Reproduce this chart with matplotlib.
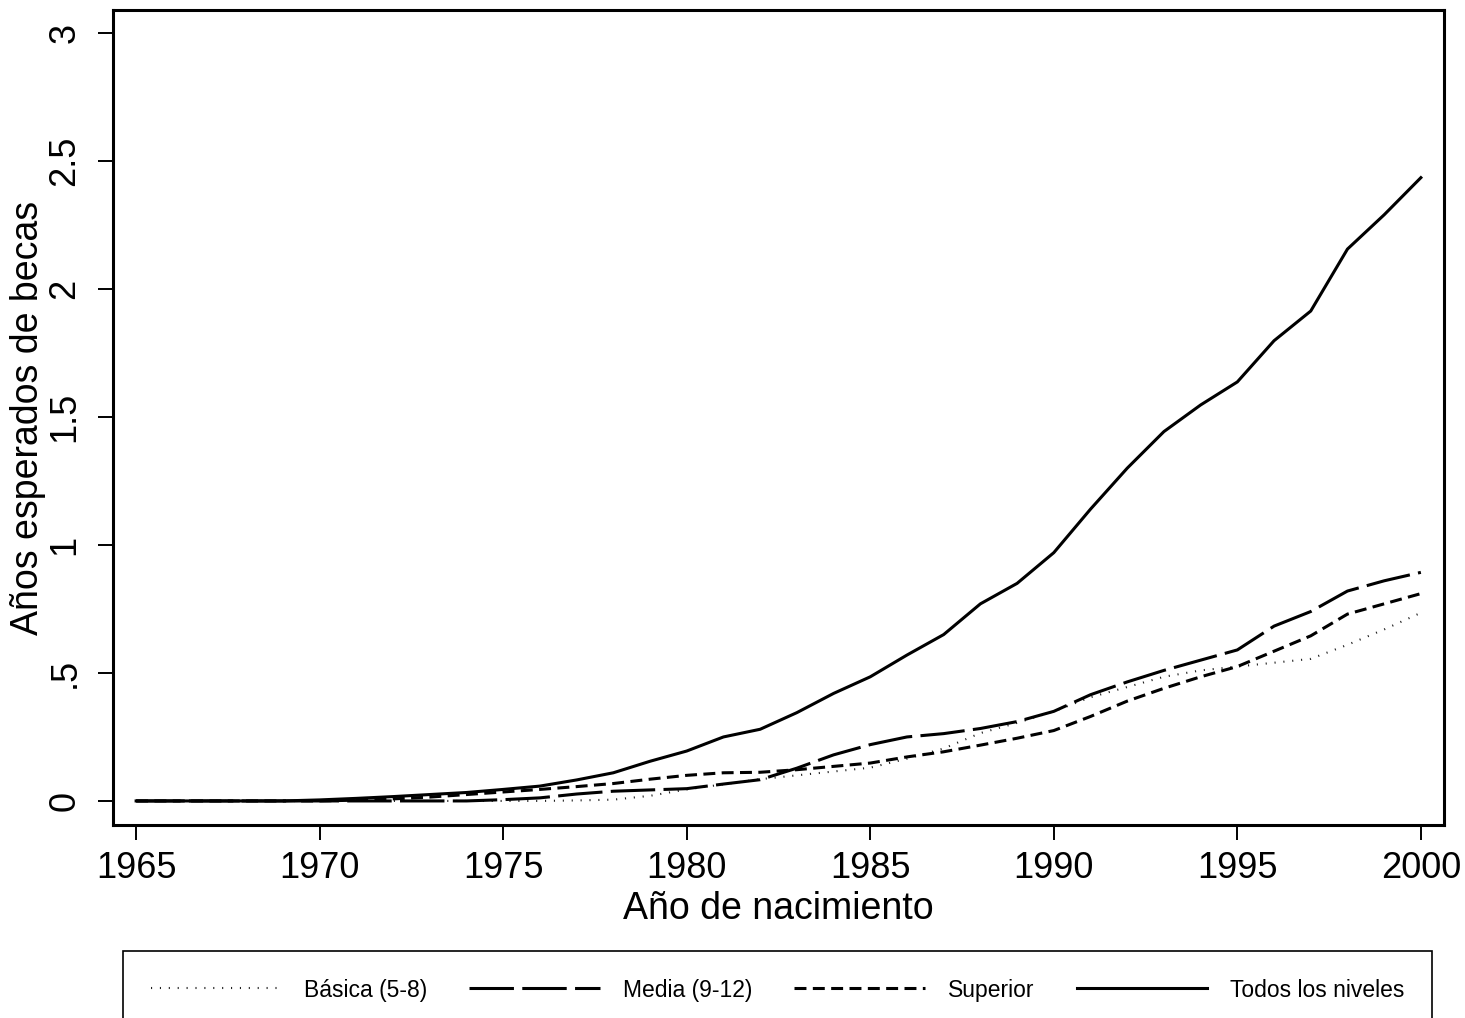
import matplotlib
matplotlib.use('Agg')
import matplotlib.pyplot as plt

plt.rcParams['font.family'] = ['Liberation Sans', 'DejaVu Sans']
plt.rcParams['lines.scale_dashes'] = False

# Data
years = list(range(1965, 2001))
basica = [0, 0, 0, 0, 0, 0, 0, 0, 0, 0,
          0, 0, 0.002, 0.005, 0.02, 0.045, 0.065, 0.085, 0.1, 0.115,
          0.13, 0.165, 0.205, 0.265, 0.305, 0.35, 0.405, 0.445, 0.485, 0.51,
          0.525, 0.54, 0.555, 0.61, 0.67, 0.735]
media = [0, 0, 0, 0, 0, 0, 0, 0, 0, 0,
         0.005, 0.012, 0.027, 0.038, 0.043, 0.048, 0.066, 0.083, 0.128, 0.18,
         0.22, 0.25, 0.263, 0.283, 0.31, 0.35, 0.415, 0.465, 0.51, 0.55,
         0.59, 0.683, 0.74, 0.82, 0.86, 0.893]
superior = [0, 0, 0, 0, 0, 0, 0.003, 0.008, 0.015, 0.025,
            0.035, 0.045, 0.056, 0.068, 0.085, 0.1, 0.11, 0.112, 0.122, 0.135,
            0.148, 0.172, 0.192, 0.218, 0.245, 0.275, 0.33, 0.39, 0.44, 0.485,
            0.525, 0.585, 0.645, 0.73, 0.77, 0.81]
todos = [0, 0, 0, 0, 0, 0.004, 0.01, 0.017, 0.025, 0.033,
         0.045, 0.058, 0.082, 0.11, 0.155, 0.195, 0.25, 0.28, 0.345, 0.42,
         0.485, 0.57, 0.65, 0.77, 0.85, 0.97, 1.14, 1.3, 1.443, 1.547,
         1.637, 1.798, 1.914, 2.156, 2.29, 2.435]

xticks = [1965, 1970, 1975, 1980, 1985, 1990, 1995, 2000]
yticks = [0, 0.5, 1, 1.5, 2, 2.5, 3]
ytick_labels = ['0', '.5', '1', '1.5', '2', '2.5', '3']

W, H = 1465, 1018
fig = plt.figure(figsize=(W / 100, H / 100), dpi=100)
ax = fig.add_axes([113 / W, 1 - 825 / H, (1444 - 113) / W, (825 - 10) / H])

l1, = ax.plot(years, basica, color='#222222', lw=1.5, linestyle=(0, (0.8, 5.6)),
              label='Básica (5-8)')
l2, = ax.plot(years, media, color='black', lw=2.2, linestyle=(0, (32, 6)),
              label='Media (9-12)')
l3, = ax.plot(years, superior, color='black', lw=2.2, linestyle=(0, (8.6, 4.6)),
              label='Superior')
l4, = ax.plot(years, todos, color='black', lw=2.2, label='Todos los niveles')

ax.set_xlim(1964.37, 2000.63)
ax.set_ylim(-0.094, 3.09)
ax.set_xticks(xticks)
ax.set_yticks(yticks)
ax.set_yticklabels(ytick_labels, rotation=90, va='center')
ax.tick_params(axis='both', labelsize=26, length=11, width=1.4, direction='out')
ax.tick_params(axis='y', pad=11)
ax.tick_params(axis='x', pad=8)
for s in ax.spines.values():
    s.set_linewidth(2.2)

ax.set_xlabel('Año de nacimiento', fontsize=27, labelpad=3)
ax.set_ylabel('Años esperados de becas', fontsize=27, labelpad=1)

leg = fig.legend(handles=[l1, l2, l3, l4], loc='upper left',
                 bbox_to_anchor=(123 / W, 1 - 1030 / H, 1309 / W, 79 / H),
                 mode='expand', ncol=4, fontsize=16.5, handlelength=5.7,
                 handletextpad=1.0, borderaxespad=0, borderpad=1.2,
                 fancybox=False, edgecolor='black', framealpha=1)
leg.get_frame().set_linewidth(1.2)

fig.savefig('out.png', dpi=100)
